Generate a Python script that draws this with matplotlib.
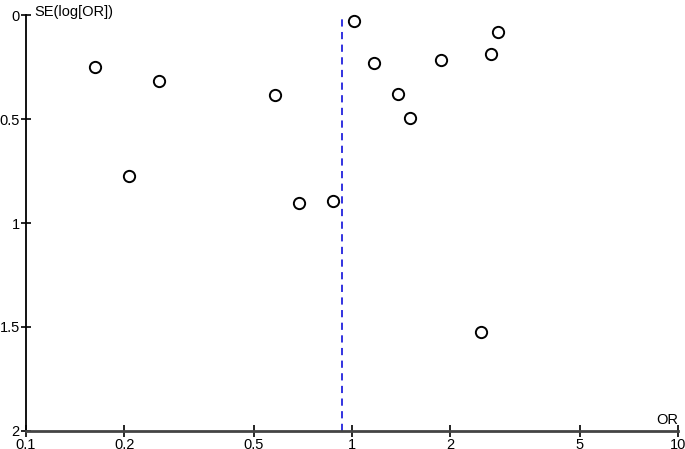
import matplotlib
matplotlib.use("Agg")
import matplotlib.pyplot as plt
import numpy as np

plt.rcParams['font.family'] = ['Liberation Sans', 'DejaVu Sans']

odds_ratio = [0.1625, 0.255, 0.582, 0.207, 0.689, 0.876, 1.016, 2.80, 2.66, 1.166, 1.875, 1.387, 1.506, 2.49]
se_log_or = [0.249, 0.318, 0.387, 0.773, 0.905, 0.892, 0.027, 0.083, 0.186, 0.231, 0.215, 0.381, 0.493, 1.523]
pooled_or = 0.932
x_ticks = [0.1, 0.2, 0.5, 1, 2, 5, 10]
x_tick_labels = ['0.1', '0.2', '0.5', '1', '2', '5', '10']
y_ticks = [0, 0.5, 1, 1.5, 2]
y_tick_labels = ['0', '0.5', '1', '1.5', '2']

fig = plt.figure(figsize=(6.85, 4.49), dpi=100)
ax = fig.add_axes([26/685, (449-431)/449, (678-26)/685, (431-15)/449])
ax.set_xscale('log')
ax.set_xlim(0.1, 10)
ax.set_ylim(2, 0)

ax.scatter(odds_ratio, se_log_or, s=66, facecolors='white', edgecolors='black',
           linewidths=1.4, zorder=3, clip_on=False)
ax.axvline(pooled_or, color='#2222dd', linestyle=(0, (4, 3)), linewidth=1.3, zorder=2)

for s in ['top', 'right']:
    ax.spines[s].set_visible(False)
ax.spines['left'].set_color('black')
ax.spines['left'].set_linewidth(1.3)
ax.spines['bottom'].set_color('#444444')
ax.spines['bottom'].set_linewidth(2)

ax.set_xticks(x_ticks)
ax.set_xticklabels(x_tick_labels)
ax.xaxis.set_minor_locator(matplotlib.ticker.NullLocator())
ax.set_yticks(y_ticks)
ax.set_yticklabels(y_tick_labels)
ax.tick_params(axis='x', direction='inout', length=8, width=1.2, color='black',
               labelsize=10.5, pad=1)
ax.tick_params(axis='y', direction='inout', length=7, width=1.2, color='black',
               labelsize=10.5, pad=1)

fig.text(34/685, 1 - 12/449, 'SE(log[OR])', fontsize=10.5, ha='left', va='center')
fig.text(678/685, 1 - 420/449, 'OR', fontsize=10.5, ha='right', va='center')

fig.savefig('out.png', dpi=100)
